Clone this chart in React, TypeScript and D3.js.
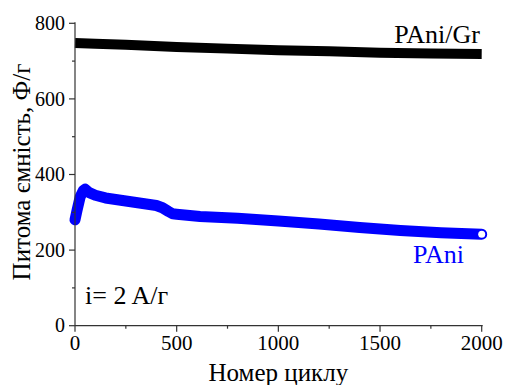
import React from "react";
import * as d3 from "d3";

const grCycles = [0, 100, 250, 500, 750, 1000, 1250, 1500, 1750, 2000];
const grValues = [748, 746, 743, 737, 733, 729, 726, 722, 720, 719];

const paniCycles = [0, 10, 25, 40, 50, 70, 100, 150, 200, 300, 400, 430, 460, 480, 500, 615, 800, 1000, 1200, 1400, 1600, 1800, 2000];
const paniValues = [280, 305, 340, 357, 361, 352, 345, 338, 334, 326, 318, 312, 302, 296, 295, 289, 284, 277, 269, 260, 252, 246, 242];

const xTicks = [0, 500, 1000, 1500, 2000];
const xMinor = [250, 750, 1250, 1750];
const yTicks = [0, 200, 400, 600, 800];
const yMinor = [100, 300, 500, 700];

const W = 508, H = 385;
const left = 75, right = 481.7, top = 23.3, bottom = 325.7;
const FONT = "Liberation Serif";

export default function App() {
  const x = d3.scaleLinear().domain([0, 2000]).range([left, right]);
  const y = d3.scaleLinear().domain([0, 800]).range([bottom, top]);
  const line = d3.line<[number, number]>().x(d => x(d[0])).y(d => y(d[1]));
  const grData = grCycles.map((c, i) => [c, grValues[i]] as [number, number]);
  const paniData = paniCycles.map((c, i) => [c, paniValues[i]] as [number, number]);
  const axisColor = "#333";
  const ts = { fontFamily: FONT };
  return (
    <svg width={W} height={H} style={{ position: "absolute", left: 0, top: 0 }}>
      <rect x={0} y={0} width={W} height={H} fill="#fff" />
      <path d={line(grData) || ""} fill="none" stroke="#000" strokeWidth={10} strokeLinecap="butt" strokeLinejoin="round" />
      <path d={line(paniData) || ""} fill="none" stroke="#0000ff" strokeWidth={11} strokeLinecap="round" strokeLinejoin="round" />
      <circle cx={x(2000)} cy={y(242)} r={3.5} fill="#fff" stroke="none" />
      <line x1={left} x2={left} y1={top - 1} y2={bottom} stroke={axisColor} strokeWidth={1.2} />
      <line x1={left} x2={right + 1} y1={bottom} y2={bottom} stroke={axisColor} strokeWidth={1.2} />
      {yTicks.map(t => (
        <g key={"y" + t}>
          <line x1={left - 6} x2={left} y1={y(t)} y2={y(t)} stroke={axisColor} strokeWidth={1.2} />
          <text x={65} y={y(t)} dy="0.33em" textAnchor="end" fontSize={20} fill="#000" style={ts}>{t}</text>
        </g>
      ))}
      {yMinor.map(t => (
        <line key={"ym" + t} x1={left - 3} x2={left} y1={y(t)} y2={y(t)} stroke={axisColor} strokeWidth={1.2} />
      ))}
      {xTicks.map(t => (
        <g key={"x" + t}>
          <line x1={x(t)} x2={x(t)} y1={bottom} y2={bottom + 6} stroke={axisColor} strokeWidth={1.2} />
          <text x={x(t)} y={350} textAnchor="middle" fontSize={21} fill="#000" style={ts}>{t}</text>
        </g>
      ))}
      {xMinor.map(t => (
        <line key={"xm" + t} x1={x(t)} x2={x(t)} y1={bottom} y2={bottom + 3} stroke={axisColor} strokeWidth={1.2} />
      ))}
      <text x={(left + right) / 2} y={381} textAnchor="middle" fontSize={25} fill="#000" style={ts}>Номер циклу</text>
      <text transform={`translate(30, 172) rotate(-90)`} textAnchor="middle" fontSize={25} fill="#000" style={ts}>Питома ємність, Ф/г</text>
      <text x={480} y={43} textAnchor="end" fontSize={26} fill="#000" style={ts}>PAni/Gr</text>
      <text x={464} y={263} textAnchor="end" fontSize={26} fill="#0000ff" style={ts}>PAni</text>
      <text x={85} y={304} fontSize={26} fill="#000" style={ts}>i= 2 A/г</text>
    </svg>
  );
}
